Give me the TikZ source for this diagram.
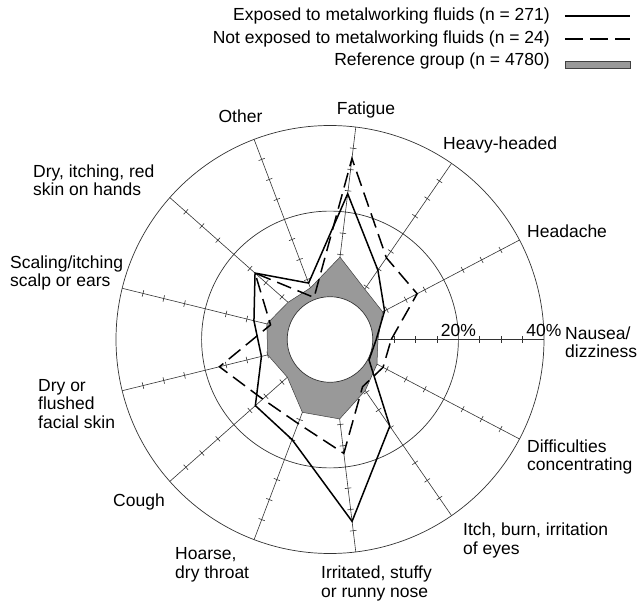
\documentclass[tikz,border=0pt]{standalone}
\usepackage{fontspec}
\setmainfont{Liberation Sans}
\usetikzlibrary{positioning}

\begin{document}
\begin{tikzpicture}[x=1pt, y=1pt,
    declare function={pr(\p)=4.28*(10+\p);},
    spoke/.style={draw=black!80, line width=0.6pt},
    ring/.style={draw=black!80, line width=0.7pt},
    exposed/.style={draw=black, line width=1.5pt, line join=miter},
    unexposed/.style={draw=black, line width=1.5pt, dash pattern=on 15pt off 7pt},
    refgroup/.style={fill=black!40, draw=black!75, line width=0.5pt},
    lbl/.style={font=\fontsize{17.5}{18.5}\selectfont, align=left, inner sep=0pt},
  ]
  \useasboundingbox (-330,-263.5) rectangle (308,339.5);

  % spokes, ticks every 5 %
  \foreach \k in {0,...,12}{
    \begin{scope}[rotate=\k*360/13]
      \draw[spoke] ({pr(0)},0) -- ({pr(40)},0);
      \foreach \t in {5,10,15,25,30,35}
        \draw[spoke] ({pr(\t)},-3.3) -- ({pr(\t)},3.3);
    \end{scope}
  }
  \draw[ring] (0,0) circle ({pr(20)});
  \draw[ring] (0,0) circle ({pr(40)});

  % percentages per symptom, nausea first, counter-clockwise
  \foreach \v [count=\k from 0] in {1.2,3.9,4.3,9.4,2.9,3.1,5.2,5,3.3,8.2,8.7,4.5,2.4}
    \coordinate (ref\k) at ({\k*360/13}:{pr(\v)});
  \foreach \v [count=\k from 0] in {0.8,4.4,9.7,24.3,4.1,13.4,8.3,6.5,13.3,15,32.8,14.6,0.3}
    \coordinate (exp\k) at ({\k*360/13}:{pr(\v)});
  \foreach \v [count=\k from 0] in {4.3,13,13.2,32.6,0.5,13.4,4.3,16.6,11,11,16.8,3.4,4}
    \coordinate (nex\k) at ({\k*360/13}:{pr(\v)});

  \draw[refgroup] (ref0) \foreach \k in {1,...,12}{-- (ref\k)} -- cycle;
  \draw[ring, fill=white] (0,0) circle ({pr(0)});
  \draw[exposed] (exp0) \foreach \k in {1,...,12}{-- (exp\k)} -- cycle;
  \draw[unexposed] (nex0) \foreach \k in {1,...,12}{-- (nex\k)} -- cycle;

  \node[lbl, anchor=south] (p20) at ({pr(20)},2.5) {20\%};
  \node[lbl, anchor=south] (p40) at ({pr(40)},2.5) {40\%};

  % symptom labels
  \node[lbl, anchor=west] (nausea) at (235,-2.5) {Nausea/\\dizziness};
  \node[lbl, anchor=west] (headache) at (197,108) {Headache};
  \node[lbl, anchor=west] (heavy) at (113,195) {Heavy-headed};
  \node[lbl] (fatigue) at (36,229.5) {Fatigue};
  \node[lbl] (other) at (-89.5,223.5) {Other};
  \node[lbl, anchor=west] (hands) at (-297,159.5) {Dry, itching, red\\skin on hands};
  \node[lbl, anchor=west] (scalp) at (-320,66.5) {Scaling/itching\\scalp or ears};
  \node[lbl, anchor=west] (facial) at (-292,-64.5) {Dry or\\flushed\\facial skin};
  \node[lbl] (cough) at (-191,-162.5) {Cough};
  \node[lbl, anchor=west] (throat) at (-155,-225.5) {Hoarse,\\dry throat};
  \node[lbl, anchor=west] (nose) at (-9,-244) {Irritated, stuffy\\or runny nose};
  \node[lbl, anchor=west] (eyes) at (133,-201) {Itch, burn, irritation\\of eyes};
  \node[lbl, anchor=west] (concentr) at (197,-117.5) {Difficulties\\concentrating};

  % legend
  \node[lbl, anchor=east] (legexp) at (220,323.5) {Exposed to metalworking fluids (n = 271)};
  \node[lbl, anchor=east] (legnex) at (220,300.5) {Not exposed to metalworking fluids (n = 24)};
  \node[lbl, anchor=east] (legref) at (220,278.5) {Reference group (n = 4780)};
  \draw[exposed, line width=1.2pt] ([xshift=15]legexp.east) -- ++(65,0);
  \draw[unexposed, line width=1.2pt, dash pattern=on 18pt off 7pt] ([xshift=15]legnex.east) -- ++(65,0);
  \draw[refgroup] ([xshift=15,yshift=-7]legref.east) rectangle ++(65,7);
\end{tikzpicture}
\end{document}
